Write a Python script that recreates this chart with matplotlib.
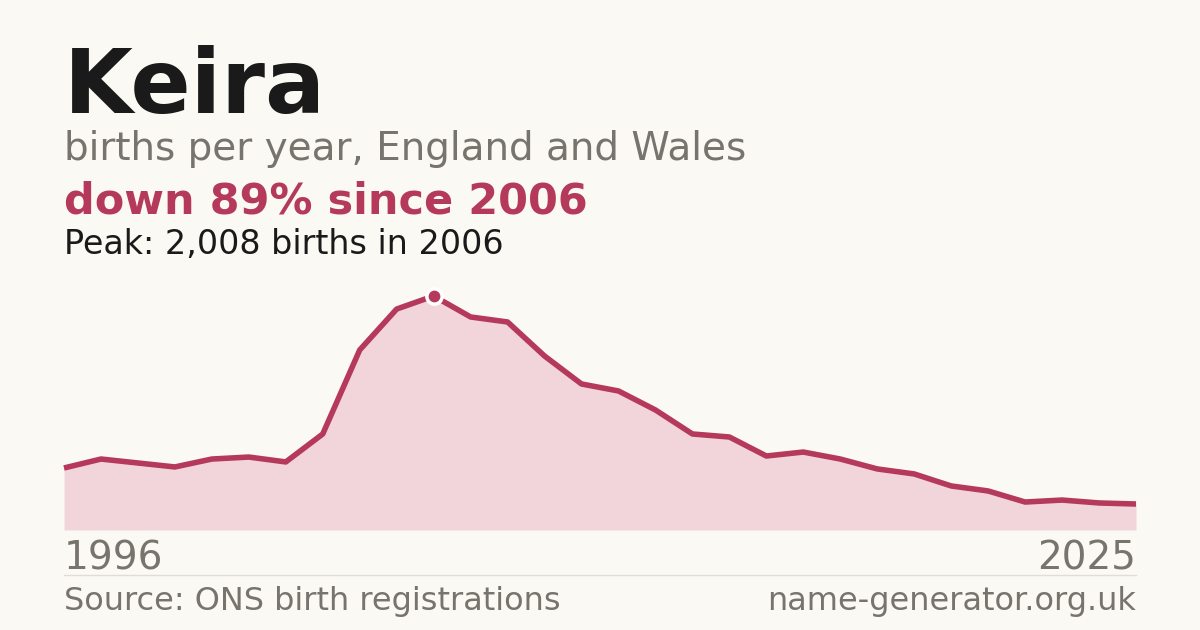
import matplotlib
matplotlib.use("Agg")
import matplotlib.pyplot as plt

years = list(range(1996, 2026))
births = [532, 609, 575, 541, 609, 626, 584, 824, 1545, 1896,
          2008, 1828, 1785, 1493, 1253, 1193, 1030, 824, 798, 635,
          669, 609, 524, 481, 378, 335, 240, 257, 232, 223]
peak_year = 2006
peak_val = 2008

bg = "#faf9f4"
red = "#b5395a"
grey = "#77736d"

W, H = 1200, 630
fig = plt.figure(figsize=(W / 100, H / 100), dpi=100, facecolor=bg)

def ty(px):
    return 1 - px / H

ax = fig.add_axes([64 / W, 100 / H, 1072 / W, 234 / H])
ax.set_facecolor(bg)
ax.fill_between(years, births, color="#f2d5db", linewidth=0)
ax.plot(years, births, color=red, linewidth=4, solid_capstyle="butt", clip_on=False)
ax.plot([peak_year], [peak_val], "o", color=red, markersize=11,
        markeredgecolor="white", markeredgewidth=2.5, clip_on=False, zorder=5)
ax.set_xlim(1996, 2025)
ax.set_ylim(0, peak_val)
ax.axis("off")

fig.text(64 / W, ty(113), "Keira", fontsize=64, fontweight="bold", color="#1a1a1a", va="baseline")
fig.text(64 / W, ty(160), "births per year, England and Wales", fontsize=28, color=grey, va="baseline")
fig.text(64 / W, ty(213), "down 89% since 2006", fontsize=31, fontweight="bold", color=red, va="baseline")
fig.text(64 / W, ty(254), "Peak: 2,008 births in 2006", fontsize=24, color="#1a1a1a", va="baseline")

fig.text(64 / W, ty(569), "1996", fontsize=28, color=grey, va="baseline")
fig.text(1136 / W, ty(569), "2025", fontsize=28, color=grey, va="baseline", ha="right")
fig.add_artist(plt.Line2D([64 / W, 1136 / W], [ty(575), ty(575)], color="#e0ddd6", linewidth=1))
fig.text(64 / W, ty(610), "Source: ONS birth registrations", fontsize=23, color=grey, va="baseline")
fig.text(1136 / W, ty(610), "name-generator.org.uk", fontsize=23, color=grey, va="baseline", ha="right")

fig.savefig("out.png", dpi=100, facecolor=bg)
